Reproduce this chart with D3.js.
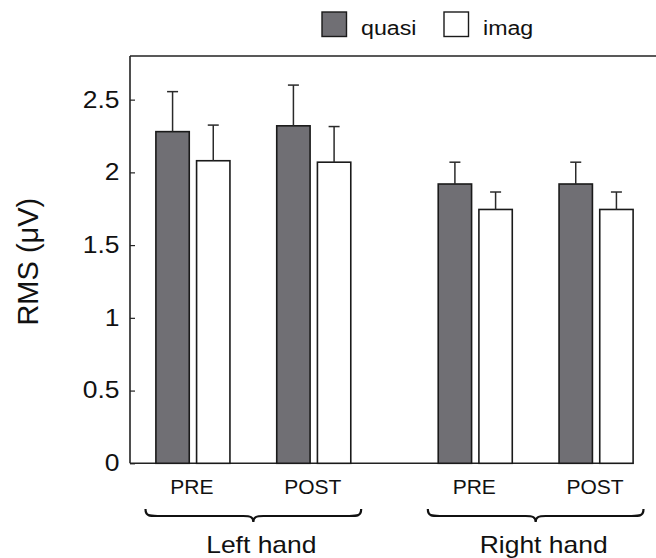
<!DOCTYPE html>
<html>
<head>
<meta charset="utf-8">
<script src="https://cdn.jsdelivr.net/npm/d3@7"></script>
<style>
  body { margin: 0; background: #fff; }
  svg { display: block; }
  text { font-family: "Liberation Sans", Arial, Helvetica, sans-serif; fill: #111; }
</style>
</head>
<body>
<svg id="chart" width="656" height="558"></svg>
<script>
// ---- data ----
const hands = ["Left hand", "Right hand"];
const phases = ["PRE", "POST"];
const seriesNames = ["quasi", "imag"];
// order: Left PRE, Left POST, Right PRE, Right POST
const quasiMean = [2.28, 2.32, 1.92, 1.92];
const quasiErr  = [0.275, 0.28, 0.15, 0.15];
const imagMean  = [2.08, 2.07, 1.745, 1.745];
const imagErr   = [0.245, 0.245, 0.12, 0.12];
const yTicks = [0, 0.5, 1, 1.5, 2, 2.5];
const yLabel = "RMS (\u03BCV)";

// ---- layout ----
const W = 656, H = 558;
const plotLeft = 130, plotTop = 56, plotBottom = 463.3;
const wide = 1.15;               // horizontal stretch applied to most labels
const darkFill = "#706f74";

const svg = d3.select("#chart");

const rows = [];
quasiMean.forEach((_, i) => {
  rows.push({
    hand: hands[Math.floor(i / 2)],
    phase: phases[i % 2],
    values: [
      { series: "quasi", mean: quasiMean[i], err: quasiErr[i] },
      { series: "imag",  mean: imagMean[i],  err: imagErr[i] }
    ]
  });
});

const y = d3.scaleLinear().domain([0, 2.8]).range([plotBottom, plotTop]);

const xHand = d3.scaleBand().domain(hands).range([132.5, 656.5])
  .paddingInner(0.144).paddingOuter(0);
const xPhase = d3.scaleBand().domain(phases).range([0, xHand.bandwidth()]);
const xSeries = d3.scaleBand().domain(seriesNames).range([0, xPhase.bandwidth()])
  .paddingInner(0.18).paddingOuter(0.575);

const color = d3.scaleOrdinal().domain(seriesNames).range([darkFill, "#ffffff"]);

const barX = (r, v) => xHand(r.hand) + xPhase(r.phase) + xSeries(v.series);
const lastRow = rows[rows.length - 1];
const rightEdge = barX(lastRow, lastRow.values[1]) + xSeries.bandwidth();

// ---- frame ----
svg.append("line")
  .attr("x1", plotLeft).attr("x2", W).attr("y1", plotTop).attr("y2", plotTop)
  .attr("stroke", "#222").attr("stroke-width", 1.6);
svg.append("line")
  .attr("x1", plotLeft).attr("x2", rightEdge).attr("y1", plotBottom).attr("y2", plotBottom)
  .attr("stroke", "#222").attr("stroke-width", 1.6);

// ---- y axis ----
const yAxis = svg.append("g")
  .attr("transform", `translate(${plotLeft},0)`)
  .call(d3.axisLeft(y).tickValues(yTicks).tickFormat(d3.format("~g"))
    .tickSizeInner(-5).tickSizeOuter(0).tickPadding(10));
yAxis.select(".domain").attr("stroke", "#222").attr("stroke-width", 1.6)
  .attr("d", `M0,${plotTop}V${plotBottom}`);
yAxis.selectAll(".tick line").attr("stroke", "#222").attr("stroke-width", 1.2);
yAxis.selectAll(".tick text")
  .attr("font-size", 23).attr("fill", "#111")
  .attr("transform", `scale(${wide},1)`)
  .attr("x", -10.5 / wide);

svg.append("text")
  .attr("transform", `translate(38,${(plotTop + plotBottom) / 2 + 2}) rotate(-90)`)
  .attr("text-anchor", "middle")
  .attr("font-size", 29)
  .text(yLabel);

// ---- bars ----
const groups = svg.append("g").selectAll("g.cond").data(rows).join("g").attr("class", "cond");

groups.selectAll("rect").data(r => r.values.map(v => ({ r, v }))).join("rect")
  .attr("x", d => barX(d.r, d.v))
  .attr("y", d => y(d.v.mean))
  .attr("width", xSeries.bandwidth())
  .attr("height", d => y(0) - y(d.v.mean))
  .attr("fill", d => color(d.v.series))
  .attr("stroke", "#1a1a1a")
  .attr("stroke-width", 1.6);

// error bars (upper half only)
const capHalf = 5.5;
const eb = groups.selectAll("g.err").data(r => r.values.map(v => ({ r, v }))).join("g").attr("class", "err");
eb.append("line")
  .attr("x1", d => barX(d.r, d.v) + xSeries.bandwidth() / 2)
  .attr("x2", d => barX(d.r, d.v) + xSeries.bandwidth() / 2)
  .attr("y1", d => y(d.v.mean))
  .attr("y2", d => y(d.v.mean + d.v.err))
  .attr("stroke", "#2a2a2a").attr("stroke-width", 1.5);
eb.append("line")
  .attr("x1", d => barX(d.r, d.v) + xSeries.bandwidth() / 2 - capHalf)
  .attr("x2", d => barX(d.r, d.v) + xSeries.bandwidth() / 2 + capHalf)
  .attr("y1", d => y(d.v.mean + d.v.err))
  .attr("y2", d => y(d.v.mean + d.v.err))
  .attr("stroke", "#2a2a2a").attr("stroke-width", 1.5);

// ---- phase labels ----
svg.append("g").selectAll("text").data(rows).join("text")
  .attr("x", r => xHand(r.hand) + xPhase(r.phase) + xPhase.bandwidth() / 2 - 1)
  .attr("y", 493.5)
  .attr("text-anchor", "middle")
  .attr("font-size", 21)
  .attr("fill", "#3c3c3c")
  .text(r => r.phase);

// ---- braces and hand labels ----
function bracePath(x1, x2, y0) {
  const cx = (x1 + x2) / 2, h = 7, tip = 6;
  return `M${x1},${y0}` +
    `C${x1},${y0 + h} ${x1 + 4},${y0 + h} ${x1 + 12},${y0 + h}` +
    `L${cx - 10},${y0 + h}` +
    `C${cx - 3},${y0 + h} ${cx},${y0 + h + 1} ${cx},${y0 + h + tip}` +
    `C${cx},${y0 + h + 1} ${cx + 3},${y0 + h} ${cx + 10},${y0 + h}` +
    `L${x2 - 12},${y0 + h}` +
    `C${x2 - 4},${y0 + h} ${x2},${y0 + h} ${x2},${y0}`;
}
const inset = 13;
svg.append("g").selectAll("path").data(hands).join("path")
  .attr("d", h => bracePath(xHand(h) + inset, xHand(h) + xHand.bandwidth() - inset, 509))
  .attr("fill", "none").attr("stroke", "#111").attr("stroke-width", 2.2);

svg.append("g").selectAll("text").data(hands).join("text")
  .attr("transform", h => `translate(${xHand(h) + xHand.bandwidth() / 2 + 8},553.3) scale(${wide},1)`)
  .attr("text-anchor", "middle")
  .attr("font-size", 23)
  .text(h => h);

// ---- legend ----
const legendX = [322, 444];
const leg = svg.append("g").selectAll("g").data(seriesNames).join("g")
  .attr("transform", (s, i) => `translate(${legendX[i]},12)`);
leg.append("rect")
  .attr("width", 24.5).attr("height", 24.5)
  .attr("fill", s => color(s)).attr("stroke", "#1a1a1a").attr("stroke-width", 1.4);
leg.append("text")
  .attr("transform", `translate(39,23) scale(${wide + 0.04},1)`)
  .attr("font-size", 19.5)
  .text(s => s);
</script>
</body>
</html>
